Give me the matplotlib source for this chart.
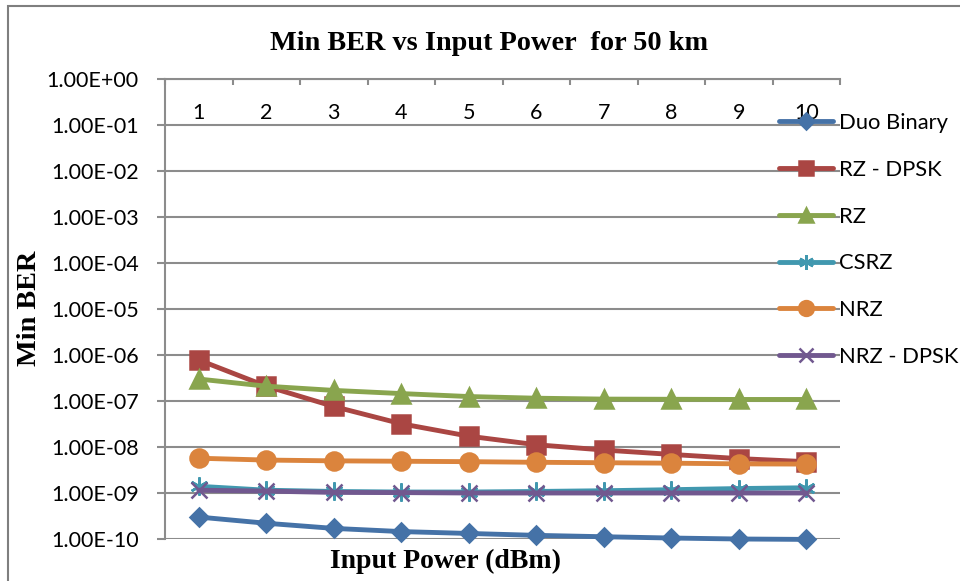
# Min BER vs input power, 50 km link
import matplotlib
matplotlib.use("Agg")
import matplotlib.pyplot as plt
from matplotlib.ticker import FuncFormatter, FixedLocator, NullLocator
from matplotlib.patches import Rectangle

# data
power = [1, 2, 3, 4, 5, 6, 7, 8, 9, 10]
duo_binary = [3.0e-10, 2.2e-10, 1.7e-10, 1.45e-10, 1.32e-10, 1.2e-10, 1.12e-10, 1.05e-10, 1.0e-10, 0.98e-10]
rz_dpsk = [7.8e-7, 2.1e-7, 7.6e-8, 3.2e-8, 1.72e-8, 1.12e-8, 8.6e-9, 6.9e-9, 5.6e-9, 4.8e-9]
rz = [3.0e-7, 2.1e-7, 1.7e-7, 1.45e-7, 1.25e-7, 1.15e-7, 1.1e-7, 1.09e-7, 1.08e-7, 1.08e-7]
csrz = [1.4e-9, 1.15e-9, 1.08e-9, 1.05e-9, 1.05e-9, 1.08e-9, 1.12e-9, 1.18e-9, 1.25e-9, 1.3e-9]
nrz = [5.7e-9, 5.2e-9, 5.0e-9, 4.9e-9, 4.8e-9, 4.65e-9, 4.55e-9, 4.45e-9, 4.3e-9, 4.25e-9]
nrz_dpsk = [1.15e-9, 1.1e-9, 1.03e-9, 1.02e-9, 1.0e-9, 1.0e-9, 1.0e-9, 1.0e-9, 1.0e-9, 1.0e-9]

series = [
    ("Duo Binary", duo_binary, "#4572A7", "D", 9.5),
    ("RZ - DPSK", rz_dpsk, "#AA4643", "s", 12.5),
    ("RZ", rz, "#89A54E", "^", 13),
    ("CSRZ", csrz, "#4198AF", (6, 2, 0), 13),
    ("NRZ", nrz, "#DB843D", "o", 13),
    ("NRZ - DPSK", nrz_dpsk, "#71588F", "x", 12),
]

plt.rcParams['font.family'] = ['Lato', 'DejaVu Sans']
grid_col = '#8c8c8c'

fig = plt.figure(figsize=(9.6, 5.81), dpi=100)
ax = fig.add_axes([165/960, 1 - 539/581, 675/960, 460/581])

for name, vals, col, mk, ms in series:
    ax.plot(power, vals, color=col, lw=3.5, marker=mk, markersize=ms,
            markerfacecolor=col, markeredgecolor=col, markeredgewidth=1.8,
            label=name, clip_on=False, solid_capstyle='round')

ax.set_yscale('log')
ax.set_ylim(1e-10, 1)
ax.set_xlim(0.5, 10.5)
ax.yaxis.set_major_locator(FixedLocator([10.0**k for k in range(-10, 1)]))
ax.yaxis.set_minor_locator(NullLocator())
ax.yaxis.set_major_formatter(FuncFormatter(lambda v, p: f"{v:.2E}"))
ax.grid(axis='y', color=grid_col, lw=1.5)
ax.set_axisbelow(True)

# category axis sits on the top (crosses at 1.00E+00)
ax.xaxis.tick_top()
ax.set_xticks(power)
ax.set_xticks([p + 0.5 for p in [0] + power], minor=True)
ax.tick_params(axis='x', which='major', length=0, pad=-32, labelsize=15.5)
ax.tick_params(axis='x', which='minor', direction='in', length=4, width=1.5, color=grid_col)
ax.tick_params(axis='y', which='major', direction='out', length=6, width=1.5,
               color=grid_col, pad=13, labelsize=15.5)

for side in ['right', 'bottom']:
    ax.spines[side].set_visible(False)
for side in ['left', 'top']:
    ax.spines[side].set_color(grid_col)
    ax.spines[side].set_linewidth(1.5)

fig.text(489/960, 1 - 43/581, "Min BER vs Input Power  for 50 km", ha='center', va='center',
         fontsize=20.3, fontweight='bold', family='Liberation Serif')
fig.text(446/960, 1 - 561/581, "Input Power (dBm)", ha='center', va='center',
         fontsize=20, fontweight='bold', family='Liberation Serif')
fig.text(30/960, 1 - 308/581, "Min BER", ha='center', va='center', rotation=90,
         fontsize=20.3, fontweight='bold', family='Liberation Serif')

ax.legend(loc='upper left', bbox_to_anchor=(779/960, 1 - 113/581), bbox_transform=fig.transFigure,
          frameon=False, fontsize=15.8, borderpad=0, borderaxespad=0, markerscale=0.82,
          handlelength=2.47, handletextpad=0.27, labelspacing=1.22)

# chart area border
fig.add_artist(Rectangle((8/960, -0.05), 1.1, 1.05 - 6/581, transform=fig.transFigure,
                         fill=False, edgecolor='#7f7f7f', lw=1.5))

fig.savefig("out.png", dpi=100)
